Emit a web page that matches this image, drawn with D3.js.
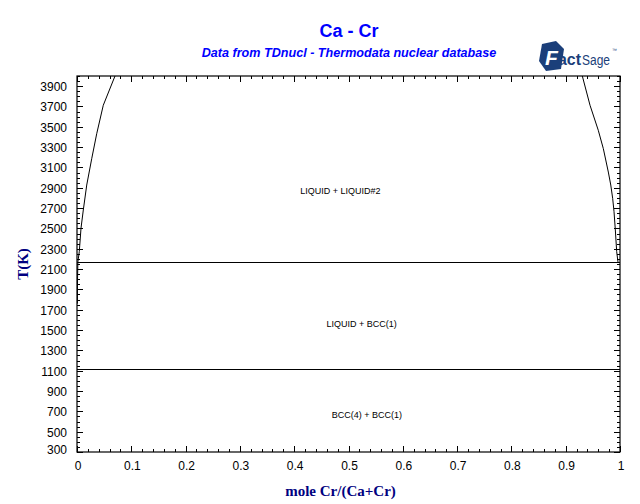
<!DOCTYPE html>
<html>
<head>
<meta charset="utf-8">
<script src="https://cdn.jsdelivr.net/npm/d3@7"></script>
<style>
  html, body { margin: 0; padding: 0; background: #fff; }
  svg { display: block; }
</style>
</head>
<body>
<svg id="chart" width="640" height="504"></svg>
<script>
// ---- data ----
const title = "Ca - Cr";
const subtitle = "Data from TDnucl - Thermodata nuclear database";
const xLabel = "mole Cr/(Ca+Cr)";
const yLabel = "T(K)";
const xTickValues = [0, 0.1, 0.2, 0.3, 0.4, 0.5, 0.6, 0.7, 0.8, 0.9, 1];
const xTickLabels = ["0", "0.1", "0.2", "0.3", "0.4", "0.5", "0.6", "0.7", "0.8", "0.9", "1"];
const yTickValues = [300, 500, 700, 900, 1100, 1300, 1500, 1700, 1900, 2100, 2300, 2500, 2700, 2900, 3100, 3300, 3500, 3700, 3900];
const xDomain = [0, 1];
const yDomain = [300, 4000];
// left (Ca-rich) liquid miscibility boundary
const leftX = [0.0007, 0.0010, 0.0016, 0.0024, 0.0042, 0.0074, 0.0116, 0.0179, 0.0271, 0.0363, 0.0484, 0.0700];
const leftT = [1760, 2000, 2170, 2200, 2271, 2504, 2681, 2927, 3186, 3432, 3712, 4000];
// right (Cr-rich) liquid miscibility boundary
const rightX = [0.9963, 0.9939, 0.9914, 0.9890, 0.9865, 0.9830, 0.9785, 0.9693, 0.9600, 0.9448, 0.9306];
const rightT = [2170, 2271, 2485, 2665, 2796, 2927, 3055, 3285, 3466, 3712, 4000];
// invariant temperatures
const invariantT = [2170, 1115];
// phase-field labels
const phaseNames = ["LIQUID + LIQUID#2", "LIQUID + BCC(1)", "BCC(4) + BCC(1)"];
const phaseX = [0.485, 0.524, 0.534];
const phaseT = [2870, 1555, 660];

// ---- layout ----
const svg = d3.select("#chart");
const m = { left: 77, right: 620, top: 76, bottom: 452 };
const x = d3.scaleLinear().domain(xDomain).range([m.left, m.right]);
const y = d3.scaleLinear().domain(yDomain).range([m.bottom, m.top]);
const sans = "'Liberation Sans', Arial, Helvetica, sans-serif";
const serif = "'Liberation Serif', 'Times New Roman', serif";

svg.append("defs").append("clipPath").attr("id", "plotclip")
  .append("rect").attr("x", m.left).attr("y", m.top)
  .attr("width", m.right - m.left).attr("height", m.bottom - m.top);

// Titles
svg.append("text").attr("x", 349).attr("y", 37).attr("text-anchor", "middle")
  .attr("font-family", sans).attr("font-weight", "bold").attr("font-size", 18)
  .attr("fill", "#0000ff").text(title);
svg.append("text").attr("x", 349).attr("y", 57).attr("text-anchor", "middle")
  .attr("font-family", sans).attr("font-weight", "bold").attr("font-style", "italic")
  .attr("font-size", 12.6).attr("fill", "#0000ff").text(subtitle);

// FactSage logo (approximation)
const logo = svg.append("g").attr("transform", "translate(537,40)");
logo.append("path").attr("d", "M5,4 L19,1 L27,9 L24,29 L9,31 L2,21 Z").attr("fill", "#1b3f7a");
logo.append("text").attr("x", 8).attr("y", 25).attr("font-family", sans).attr("font-weight", "bold")
  .attr("font-style", "italic").attr("font-size", 21).attr("fill", "#ffffff").text("F");
logo.append("text").attr("x", 21).attr("y", 25).attr("font-family", sans).attr("font-weight", "bold")
  .attr("font-size", 16).attr("fill", "#1b3f7a")
  .attr("textLength", 23).attr("lengthAdjust", "spacingAndGlyphs").text("act");
logo.append("text").attr("x", 45).attr("y", 25).attr("font-family", sans)
  .attr("font-size", 14).attr("fill", "#1b3f7a")
  .attr("textLength", 28).attr("lengthAdjust", "spacingAndGlyphs").text("Sage");
logo.append("text").attr("x", 75).attr("y", 12).attr("font-family", sans)
  .attr("font-size", 5).attr("fill", "#1b3f7a").text("™");

// Frame
svg.append("rect").attr("x", m.left).attr("y", m.top)
  .attr("width", m.right - m.left).attr("height", m.bottom - m.top)
  .attr("fill", "none").attr("stroke", "#000").attr("stroke-width", 1.2);

// Ticks
const xMinor = d3.range(0, 1.0001, 0.02);
const yMinor = d3.range(300, 4000.1, 50);
const tg = svg.append("g").attr("stroke", "#000").attr("stroke-width", 1);
xMinor.forEach((v, i) => {
  const major = (i % 5 === 0);
  const len = major ? 6 : 3;
  const px = Math.round(x(v)) + 0.5;
  tg.append("line").attr("x1", px).attr("x2", px).attr("y1", m.bottom).attr("y2", m.bottom - len);
  tg.append("line").attr("x1", px).attr("x2", px).attr("y1", m.top).attr("y2", m.top + len);
});
yMinor.forEach((v) => {
  const major = yTickValues.includes(Math.round(v));
  const len = major ? 6 : 3;
  const py = Math.round(y(v)) + 0.5;
  tg.append("line").attr("x1", m.left).attr("x2", m.left + len).attr("y1", py).attr("y2", py);
  tg.append("line").attr("x1", m.right).attr("x2", m.right - len).attr("y1", py).attr("y2", py);
});

// Tick labels
xTickValues.forEach((v, i) => {
  svg.append("text").attr("x", x(v) + 1).attr("y", 470).attr("text-anchor", "middle")
    .attr("font-family", sans).attr("font-size", 12).attr("fill", "#000").text(xTickLabels[i]);
});
yTickValues.forEach((v) => {
  const py = v === 300 ? y(v) - 3 : y(v);
  svg.append("text").attr("x", 67).attr("y", py + 5).attr("text-anchor", "end")
    .attr("font-family", sans).attr("font-size", 12).attr("fill", "#000").text(v);
});

// Axis titles
svg.append("text").attr("x", m.left + (m.right - m.left) / 2 - 8).attr("y", 496)
  .attr("text-anchor", "middle").attr("font-family", serif).attr("font-weight", "bold")
  .attr("font-size", 15).attr("fill", "#000080").text(xLabel);
svg.append("text").attr("transform", "translate(28,264) rotate(-90)")
  .attr("text-anchor", "middle").attr("font-family", serif).attr("font-weight", "bold")
  .attr("font-size", 15).attr("fill", "#000080").text(yLabel);

// Phase boundaries
const plot = svg.append("g").attr("clip-path", "url(#plotclip)");
const line = d3.line().x(d => x(d[0])).y(d => y(d[1]));
plot.append("path").datum(leftX.map((v, i) => [v, leftT[i]]))
  .attr("d", line).attr("fill", "none").attr("stroke", "#000").attr("stroke-width", 1);
plot.append("path").datum(rightX.map((v, i) => [v, rightT[i]]))
  .attr("d", line).attr("fill", "none").attr("stroke", "#000").attr("stroke-width", 1);
invariantT.forEach(t => {
  const py = Math.round(y(t)) + 0.5;
  plot.append("line").attr("x1", m.left).attr("x2", m.right).attr("y1", py).attr("y2", py)
    .attr("stroke", "#000").attr("stroke-width", 1);
});

// Phase labels
phaseNames.forEach((n, i) => {
  svg.append("text").attr("x", x(phaseX[i])).attr("y", y(phaseT[i]) + 3)
    .attr("text-anchor", "middle").attr("font-family", sans).attr("font-size", 9)
    .attr("fill", "#000").text(n);
});
</script>
</body>
</html>
